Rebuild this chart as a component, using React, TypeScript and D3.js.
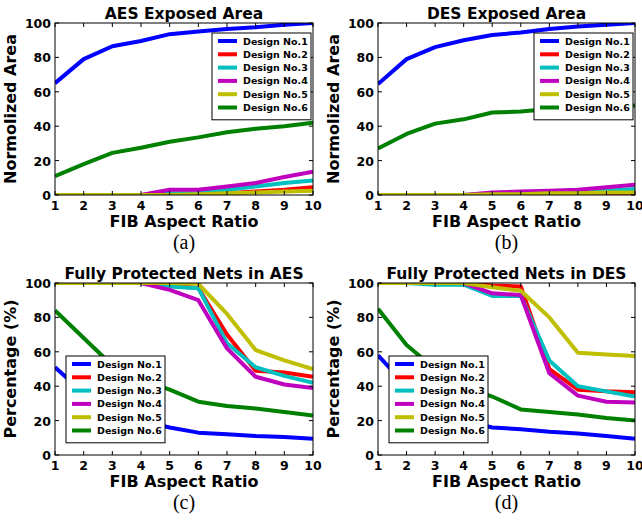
import * as d3 from 'd3';

// x values (FIB aspect ratio)
const ratios = [1, 2, 3, 4, 5, 6, 7, 8, 9, 10];
const designNames = ['Design No.1', 'Design No.2', 'Design No.3', 'Design No.4', 'Design No.5', 'Design No.6'];
const designColors = ['#0000ff', '#ff0000', '#00bfbf', '#bf00bf', '#bfbf00', '#008000'];
const yTicks = [0, 20, 40, 60, 80, 100];

// (a) AES exposed area
const aesArea = [
  [65, 79, 86.5, 89.5, 93.5, 95, 96.5, 97.5, 99, 100],
  [0, 0, 0, 0, 0, 0, 1, 2, 3, 4.5],
  [0, 0, 0, 0, 1, 1, 3, 5, 7, 8.5],
  [0, 0, 0, 0, 3, 3, 5, 7, 10.5, 13.5],
  [0, 0, 0, 0, 0, 0.5, 1, 1.5, 2, 2.5],
  [11, 18, 24.5, 27.5, 31, 33.5, 36.5, 38.5, 40, 42],
];

// (b) DES exposed area
const desArea = [
  [64.5, 79, 86, 90, 93, 94.5, 96.5, 98, 99, 100],
  [0, 0, 0, 0, 0, 0, 0.3, 0.5, 0.8, 1],
  [0, 0, 0, 0, 0.5, 1, 1, 1.5, 2.5, 3.5],
  [0, 0, 0, 0, 1.5, 2, 2.5, 3, 4.5, 6],
  [0, 0, 0, 0, 0.5, 0.5, 1, 1, 1.5, 1.5],
  [27, 35.5, 41.5, 44, 48, 48.5, 50, 50.5, 51, 52],
];

// (c) fully protected nets in AES
const aesNets = [
  [51, 36, 26, 20, 16, 13, 12, 11, 10.5, 9.5],
  [100, 100, 100, 100, 99, 97, 70, 49, 48, 45.5],
  [100, 100, 100, 100, 98, 97, 65, 51, 46, 42],
  [100, 100, 100, 100, 96, 90, 62, 45.5, 41, 39],
  [100, 100, 100, 100, 100, 99.5, 82, 61, 55, 50],
  [84, 68, 52, 44, 38, 31, 28.5, 27, 25, 23],
];

// (d) fully protected nets in DES
const desNets = [
  [58, 40, 28, 20, 16, 15, 13.5, 12.5, 11, 9.5],
  [100, 100, 100, 100, 98.5, 98, 50, 38, 37, 36.5],
  [100, 100, 99, 99, 92.5, 92.5, 55, 40, 37, 34],
  [100, 100, 100, 100, 94, 93, 47.5, 34.5, 31, 30.5],
  [100, 100, 100, 100, 97.5, 95.5, 80, 59.5, 58.5, 57.5],
  [85, 64, 50, 40, 34, 26.5, 25, 23.5, 21.5, 20],
];

const sans = 'DejaVu Sans, sans-serif';

type PanelProps = {
  id: string;
  left: number;
  top: number;
  width: number;
  height: number;
  title: string;
  yLabel: string;
  caption: string;
  series: number[][];
  legendX: number;
  legendY: number;
};

function Panel({ id, left, top, width, height, title, yLabel, caption, series, legendX, legendY }: PanelProps) {
  const x = d3.scaleLinear().domain([1, 10]).range([left, left + width]);
  const y = d3.scaleLinear().domain([0, 100]).range([top + height, top]);
  const line = d3.line<number>().x((_, i) => x(ratios[i])).y(d => y(d));
  const cx = left + width / 2;
  const rowH = 13.3;
  const legW = 99;
  const legH = rowH * designNames.length + 7;

  return (
    <g>
      <defs>
        <clipPath id={id}>
          <rect x={left} y={top} width={width} height={height} />
        </clipPath>
      </defs>
      <g clipPath={`url(#${id})`}>
        {series.map((s, i) => (
          <path key={i} d={line(s) || ''} fill="none" stroke={designColors[i]} strokeWidth={4} strokeLinejoin="round" />
        ))}
      </g>
      {/* ticks, inward on all sides */}
      {ratios.map(r => (
        <g key={r}>
          <line x1={x(r)} x2={x(r)} y1={top + height} y2={top + height - 4} stroke="#000" />
          <line x1={x(r)} x2={x(r)} y1={top} y2={top + 4} stroke="#000" />
          <text x={x(r)} y={top + height + 15} textAnchor="middle" fontFamily={sans} fontWeight="bold" fontSize={12.5}>{r}</text>
        </g>
      ))}
      {yTicks.map(t => (
        <g key={t}>
          <line x1={left} x2={left + 4} y1={y(t)} y2={y(t)} stroke="#000" />
          <line x1={left + width} x2={left + width - 4} y1={y(t)} y2={y(t)} stroke="#000" />
          <text x={left - 4} y={y(t) + 5} textAnchor="end" fontFamily={sans} fontWeight="bold" fontSize={12.5}>{t}</text>
        </g>
      ))}
      <rect x={left} y={top} width={width} height={height} fill="none" stroke="#000" strokeWidth={1} />
      <text x={cx} y={top - 4} textAnchor="middle" fontFamily={sans} fontWeight="bold" fontSize={15.5}>{title}</text>
      <text x={cx} y={top + height + 32} textAnchor="middle" fontFamily={sans} fontWeight="bold" fontSize={16}>FIB Aspect Ratio</text>
      <text transform={`translate(${left - 39},${top + height / 2}) rotate(-90)`} textAnchor="middle" fontFamily={sans} fontWeight="bold" fontSize={16}>{yLabel}</text>
      <text x={cx} y={top + height + 54} textAnchor="middle" fontFamily="Liberation Serif, serif" fontSize={20}>{caption}</text>
      {/* legend */}
      <g transform={`translate(${legendX},${legendY})`}>
        <rect x={0} y={0} width={legW} height={legH} fill="#fff" stroke="#000" strokeWidth={1} />
        {designNames.map((n, i) => (
          <g key={n} transform={`translate(0,${8 + i * rowH})`}>
            <line x1={6} x2={25} y1={0} y2={0} stroke={designColors[i]} strokeWidth={4} />
            <text x={31} y={3.5} fontFamily={sans} fontWeight="bold" fontSize={9.5}>{n}</text>
          </g>
        ))}
      </g>
    </g>
  );
}

export default function App() {
  const w = 258;
  const h = 172;
  return (
    <svg width={642} height={523} style={{ position: 'absolute', left: 0, top: 0, background: '#fff' }}>
      <Panel id="ca" left={55} top={23} width={w} height={h} title="AES Exposed Area" yLabel="Normolized Area" caption="(a)" series={aesArea} legendX={212} legendY={33} />
      <Panel id="cb" left={378} top={23} width={w - 1} height={h} title="DES Exposed Area" yLabel="Normolized Area" caption="(b)" series={desArea} legendX={534} legendY={33} />
      <Panel id="cc" left={55} top={283} width={w} height={h} title="Fully Protected Nets in AES" yLabel="Percentage (%)" caption="(c)" series={aesNets} legendX={66} legendY={356} />
      <Panel id="cd" left={378} top={283} width={w - 1} height={h} title="Fully Protected Nets in DES" yLabel="Percentage (%)" caption="(d)" series={desNets} legendX={389} legendY={356} />
    </svg>
  );
}
